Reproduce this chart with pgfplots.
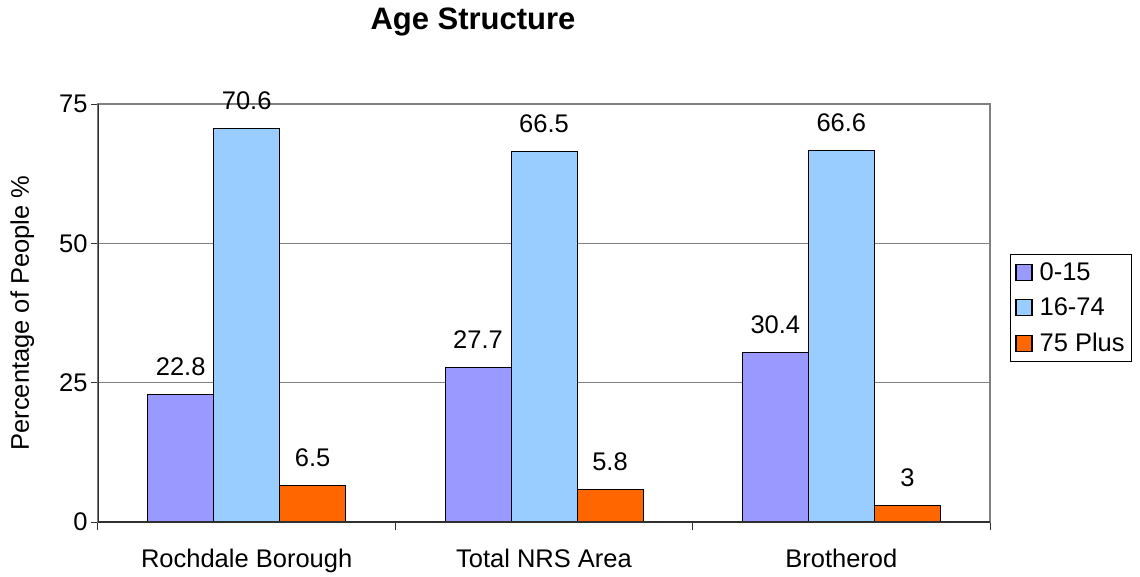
\documentclass[border=0pt]{standalone}
\usepackage{pgfplots}
\pgfplotsset{compat=1.18}
\usepackage{fontspec}
\setmainfont{Liberation Sans}
\definecolor{cA}{HTML}{9999FF}
\definecolor{cB}{HTML}{99CCFF}
\definecolor{cC}{HTML}{FF6600}
\definecolor{gridc}{HTML}{808080}
\definecolor{axc}{HTML}{303030}
\newcommand{\bodyfont}{\fontsize{25.5}{30}\selectfont}
\begin{document}
\begin{tikzpicture}[x=1pt,y=1pt]
\useasboundingbox (-98,-54) rectangle (1042,522);
\begin{axis}[
  at={(0,0)}, anchor=south west,
  width=892pt, height=418pt, scale only axis,
  xmin=-0.5, xmax=2.5, ymin=0, ymax=75,
  ybar=0pt, bar width=66pt,
  /pgf/number format/assume math mode=true,
  font=\bodyfont,
  xtick={0,1,2},
  xticklabels={Rochdale Borough, Total NRS Area, Brotherod},
  x tick style={draw=none},
  minor xtick={-0.5,0.5,1.5,2.5},
  minor x tick style={draw=axc, line width=1pt},
  minor tick length=8pt,
  xticklabel style={yshift=-16pt},
  ytick={0,25,50,75},
  major tick length=7pt,
  tick align=outside,
  tick pos=left,
  y tick style={draw=axc, line width=1pt},
  ymajorgrids,
  grid style={gridc, line width=1pt},
  axis line style={gridc, line width=1.2pt},
  ylabel={Percentage of People \%},
  every axis y label/.style={at={(axis description cs:-0.085,0.5)}, rotate=90, anchor=center},
  nodes near coords,
  every node near coord/.append style={font=\bodyfont, yshift=15pt, black},
  legend style={at={(1.0224,0.641)}, anchor=north west, draw=black, line width=1pt,
    font=\bodyfont, row sep=12pt, inner xsep=5pt, inner ysep=6pt},
  legend cell align=left,
]
\addplot[fill=cA, draw=black, line width=1pt,
  legend image code/.code={\draw[fill=cA, draw=black, line width=1.3pt] (0pt,-8pt) rectangle (16pt,8pt); \path (21pt,0pt);}]
  coordinates {(0,22.8) (1,27.7) (2,30.4)};
\addplot[fill=cB, draw=black, line width=1pt,
  legend image code/.code={\draw[fill=cB, draw=black, line width=1.3pt] (0pt,-8pt) rectangle (16pt,8pt); \path (21pt,0pt);}]
  coordinates {(0,70.6) (1,66.5) (2,66.6)};
\addplot[fill=cC, draw=black, line width=1pt,
  legend image code/.code={\draw[fill=cC, draw=black, line width=1.3pt] (0pt,-8pt) rectangle (16pt,8pt); \path (21pt,0pt);}]
  coordinates {(0,6.5) (1,5.8) (2,3)};
\legend{0-15, 16-74, 75 Plus}
\draw[axc, line width=1.2pt] (rel axis cs:0,1) -- (rel axis cs:0,0) -- (rel axis cs:1,0);
\end{axis}
\node[font=\bfseries\fontsize{31}{36}\selectfont] at (375,500) {Age Structure};
\end{tikzpicture}
\end{document}
